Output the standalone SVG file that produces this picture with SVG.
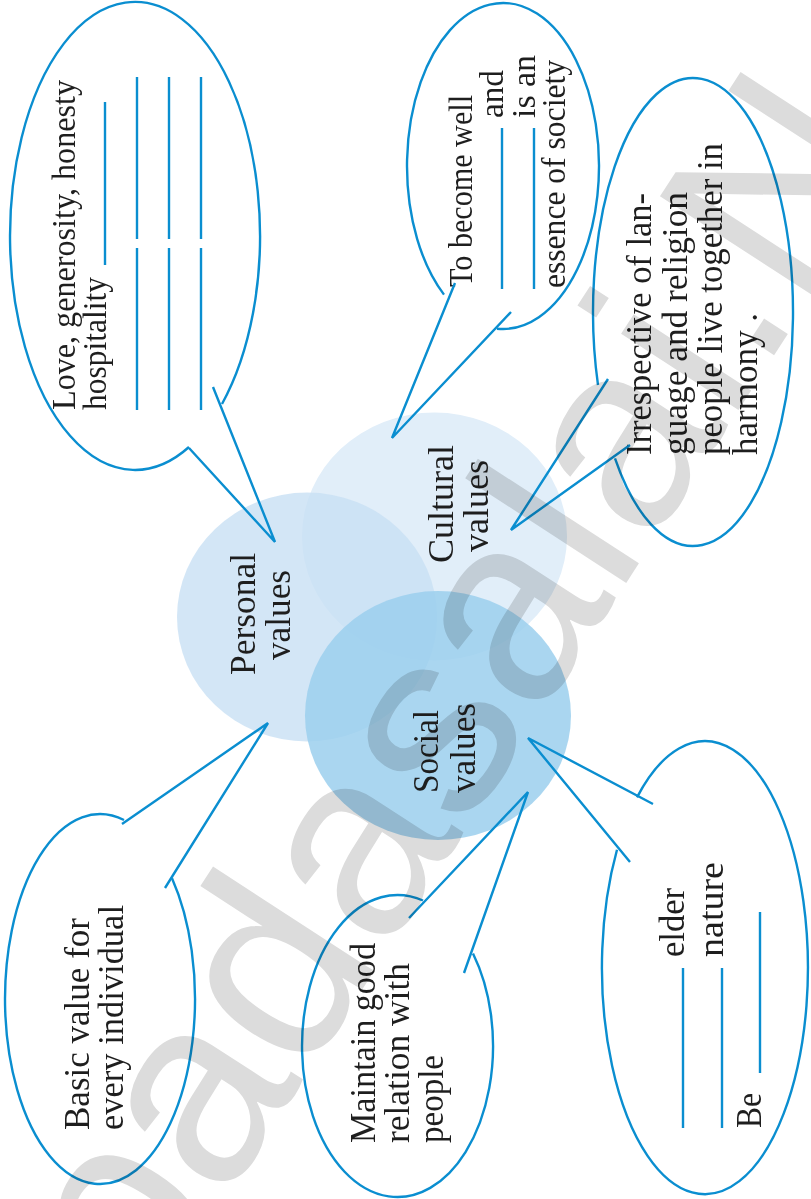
<svg xmlns="http://www.w3.org/2000/svg" width="811" height="1199" viewBox="0 0 811 1199">
<style>
.bub{fill:none;stroke:#0a8ed0;stroke-width:2.4}
.ln{stroke:#0a8ed0;stroke-width:2.4;fill:none}
.t{font-family:"Liberation Serif","Times New Roman",serif;fill:#1e1e1e}
.s33{font-size:33px}.s34{font-size:34px}.s35{font-size:35px}.s36{font-size:36px}
.wm{font-family:"Liberation Sans",Arial,sans-serif;font-size:265px;fill:#dcdcdc;mix-blend-mode:multiply}
</style>
<rect width="811" height="1199" fill="#ffffff"/>
<g id="circles">
<g id="cultural">
<ellipse cx="434.5" cy="536.5" rx="132.5" ry="124" fill="#e1eef9"/>
</g>
<g id="personal">
<ellipse cx="307" cy="617" rx="130" ry="124.5" fill="rgb(200,224,244)" fill-opacity="0.8"/>
</g>
<g id="social">
<ellipse cx="438" cy="715.5" rx="133" ry="124.5" fill="rgb(155,207,237)" fill-opacity="0.85"/>
</g>
<g id="circle-labels" class="t s36">
<text transform="translate(255,614) rotate(-90)" text-anchor="middle" textLength="122" lengthAdjust="spacingAndGlyphs">Personal</text>
<text transform="translate(290,615) rotate(-90)" text-anchor="middle" textLength="90" lengthAdjust="spacingAndGlyphs">values</text>
<text transform="translate(453,504) rotate(-90)" text-anchor="middle" textLength="118" lengthAdjust="spacingAndGlyphs">Cultural</text>
<text transform="translate(488,506) rotate(-90)" text-anchor="middle" textLength="92" lengthAdjust="spacingAndGlyphs">values</text>
<text transform="translate(438,793) rotate(-90)" textLength="83" lengthAdjust="spacingAndGlyphs">Social</text>
<text transform="translate(475,793) rotate(-90)" textLength="90" lengthAdjust="spacingAndGlyphs">values</text>
</g>
</g>
<g id="node-personal-qualities">
<path class="bub" d="M189,447 A125,234 0 1 1 222,404"/>
<g class="t s33">
<text transform="translate(75,410) rotate(-90)" textLength="330" lengthAdjust="spacingAndGlyphs">Love, generosity, honesty</text>
<text transform="translate(106,410) rotate(-90)" textLength="133" lengthAdjust="spacingAndGlyphs">hospitality</text>
</g>
<line class="ln" x1="105" y1="265" x2="105" y2="102"/>
<line class="ln" x1="137" y1="77" x2="137" y2="239"/><line class="ln" x1="137" y1="248" x2="137" y2="410"/>
<line class="ln" x1="169" y1="77" x2="169" y2="239"/><line class="ln" x1="169" y1="248" x2="169" y2="410"/>
<line class="ln" x1="201" y1="77" x2="201" y2="239"/><line class="ln" x1="201" y1="248" x2="201" y2="410"/>
</g>
<g id="node-become-well">
<path class="bub" d="M444,294.6 A96,163 0 1 1 497,328.7"/>
<g class="t s33">
<text transform="translate(472,287) rotate(-90)" textLength="192" lengthAdjust="spacingAndGlyphs">To become well</text>
<text transform="translate(503,118) rotate(-90)" textLength="48" lengthAdjust="spacingAndGlyphs">and</text>
<text transform="translate(535,118) rotate(-90)" textLength="63" lengthAdjust="spacingAndGlyphs">is an</text>
<text transform="translate(565,288) rotate(-90)" textLength="228" lengthAdjust="spacingAndGlyphs">essence of society</text>
</g>
<line class="ln" x1="502" y1="289" x2="502" y2="128"/>
<line class="ln" x1="534" y1="289" x2="534" y2="128"/>
</g>
<g id="node-irrespective">
<path class="bub" d="M598,385 A100,234 0 1 1 615,458.4"/>
<g class="t s35">
<text transform="translate(651,455) rotate(-90)" textLength="262" lengthAdjust="spacingAndGlyphs">Irrespective of lan-</text>
<text transform="translate(687,455) rotate(-90)" textLength="263" lengthAdjust="spacingAndGlyphs">guage and religion</text>
<text transform="translate(722,455) rotate(-90)" textLength="312" lengthAdjust="spacingAndGlyphs">people live together in</text>
<text transform="translate(757,455) rotate(-90)" textLength="142" lengthAdjust="spacingAndGlyphs">harmony .</text>
</g>
</g>
<g id="node-basic-value">
<path class="bub" d="M124,820 A95,185 0 1 0 172,878.3"/>
<g class="t s36">
<text transform="translate(89,1130) rotate(-90)" textLength="212" lengthAdjust="spacingAndGlyphs">Basic value for</text>
<text transform="translate(123,1130) rotate(-90)" textLength="225" lengthAdjust="spacingAndGlyphs">every individual</text>
</g>
</g>
<g id="node-maintain">
<path class="bub" d="M423,900.5 A95.5,151 0 1 0 473,953.5"/>
<g class="t s35">
<text transform="translate(375,1143) rotate(-90)" textLength="200" lengthAdjust="spacingAndGlyphs">Maintain good</text>
<text transform="translate(409,1143) rotate(-90)" textLength="180" lengthAdjust="spacingAndGlyphs">relation with</text>
<text transform="translate(443,1143) rotate(-90)" textLength="88" lengthAdjust="spacingAndGlyphs">people</text>
</g>
</g>
<g id="node-elder">
<path class="bub" d="M637,797.4 A103,226.5 0 1 1 617,849.7"/>
<g class="t s36">
<text transform="translate(684,957) rotate(-90)" textLength="69" lengthAdjust="spacingAndGlyphs">elder</text>
<text transform="translate(723,957) rotate(-90)" textLength="95" lengthAdjust="spacingAndGlyphs">nature</text>
<text transform="translate(761,1128) rotate(-90)" textLength="35" lengthAdjust="spacingAndGlyphs">Be</text>
</g>
<line class="ln" x1="683" y1="1128" x2="683" y2="968"/>
<line class="ln" x1="722" y1="1128" x2="722" y2="968"/>
<line class="ln" x1="760" y1="1073" x2="760" y2="912"/>
</g>
<g id="connectors">
<polyline class="ln" points="189,448 275,542 213,387"/>
<polyline class="ln" points="455,283 392,438 511,312"/>
<polyline class="ln" points="608,379 511,530 630,445"/>
<polyline class="ln" points="122,824 268,723 165,888"/>
<polyline class="ln" points="409,918 528,792 464,973"/>
<polyline class="ln" points="653,804 528,738 630,862"/>
</g>
<g id="watermark">
<text class="wm" transform="translate(143,1327) rotate(-57)">padasalai.Net</text>
</g>
</svg>
